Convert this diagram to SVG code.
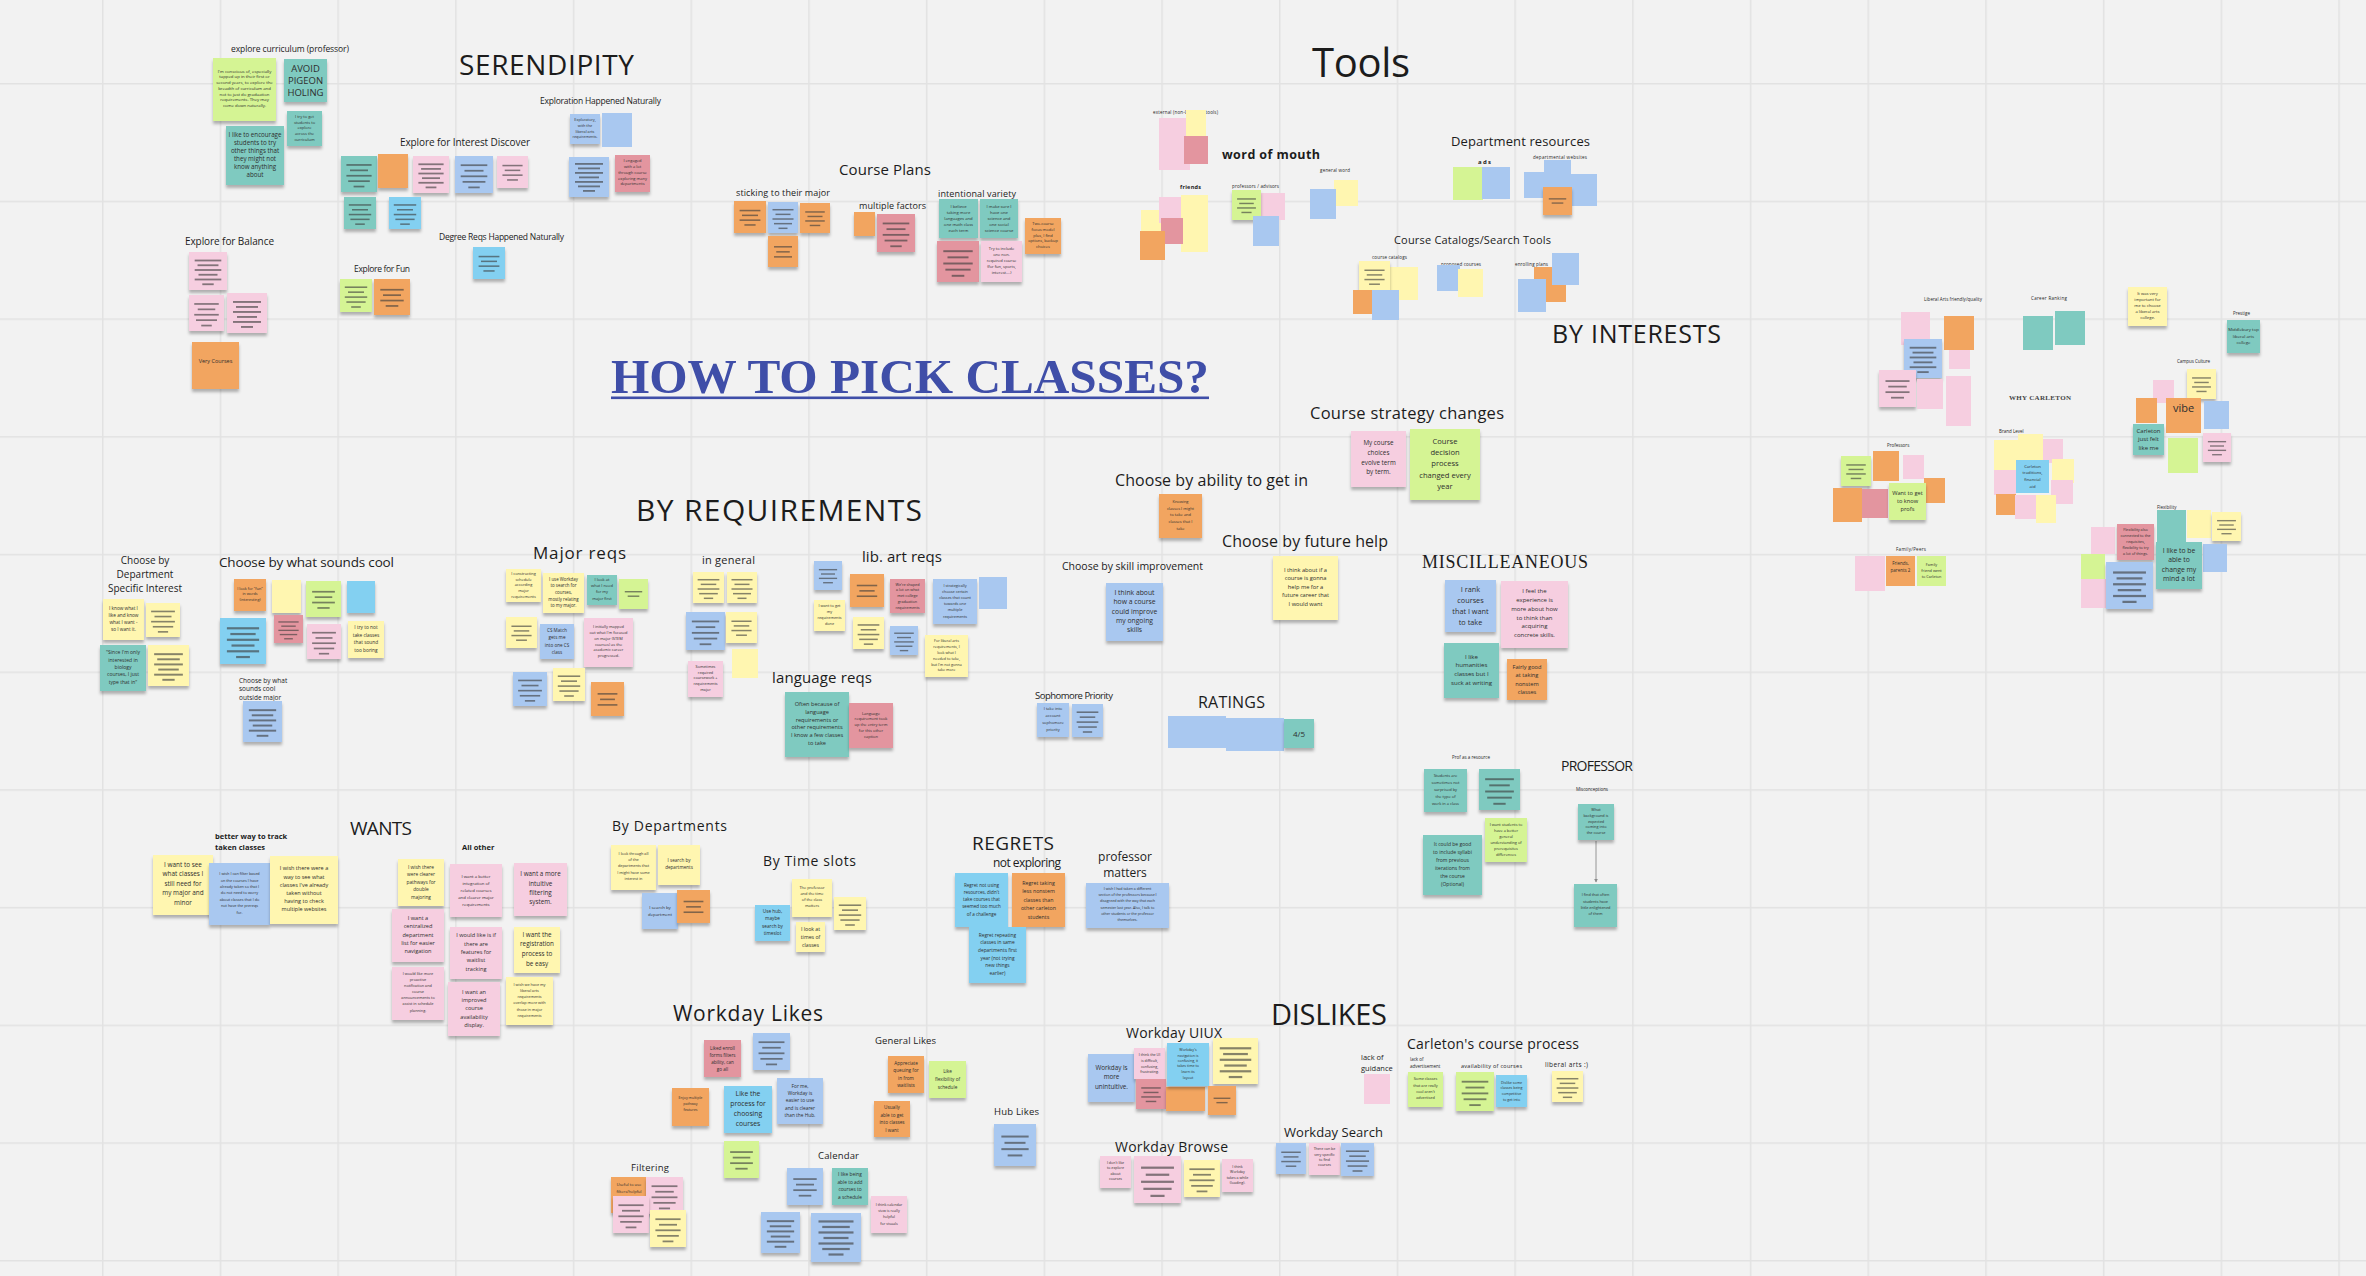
<svg xmlns="http://www.w3.org/2000/svg" xmlns:xlink="http://www.w3.org/1999/xlink" width="2366" height="1276" viewBox="0 0 2366 1276">
<style>
text{font-family:"Open Sans","Liberation Sans",sans-serif;fill:#1c1c1c}
.m{text-anchor:middle;fill:#2e2e2e}
.sf{font-family:"Liberation Serif","DejaVu Serif",serif}
.bd{font-weight:bold}
.n>rect{filter:url(#sh)}
.y{fill:#fff6b0}.l{fill:#d5f494}.t{fill:#7fcac0}.o{fill:#f2a560}.p{fill:#f6cee0}.r{fill:#e3959f}.b{fill:#a9c8f0}.c{fill:#83d0f1}
</style>
<defs>
<pattern id="grid" x="102" y="83" width="117.7" height="117.7" patternUnits="userSpaceOnUse">
<path d="M0 0H117.7M0 0V117.7" fill="none" stroke="#e2e2e2" stroke-width="3"/>
</pattern>
<filter id="sh" x="-15%" y="-15%" width="130%" height="140%">
<feDropShadow dx="0" dy="3" stdDeviation="1.6" flood-color="#000" flood-opacity="0.28"/>
</filter>
<marker id="ah" viewBox="0 0 6 6" refX="5" refY="3" markerWidth="4" markerHeight="4" orient="auto">
<path d="M0 0L6 3L0 6z" fill="#8a8a8a"/>
</marker>
<symbol id="b2" viewBox="0 0 40 40" preserveAspectRatio="none"><g fill="#3c3c3c" fill-opacity=".62"><rect x="8" y="16" width="24" height="1.9"/><rect x="12" y="22" width="16" height="1.9"/></g></symbol>
<symbol id="b3" viewBox="0 0 40 40" preserveAspectRatio="none"><g fill="#3c3c3c" fill-opacity=".62"><rect x="8" y="13" width="24" height="1.9"/><rect x="11" y="19.5" width="18" height="1.9"/><rect x="8" y="26" width="24" height="1.9"/></g></symbol>
<symbol id="b4" viewBox="0 0 40 40" preserveAspectRatio="none"><g fill="#3c3c3c" fill-opacity=".62"><rect x="7" y="11" width="26" height="1.9"/><rect x="10" y="17" width="20" height="1.9"/><rect x="7" y="23" width="26" height="1.9"/><rect x="13" y="29" width="14" height="1.9"/></g></symbol>
<symbol id="b5" viewBox="0 0 40 40" preserveAspectRatio="none"><g fill="#3c3c3c" fill-opacity=".62"><rect x="6" y="9" width="28" height="1.9"/><rect x="10" y="15" width="20" height="1.9"/><rect x="6" y="21" width="28" height="1.9"/><rect x="8" y="27" width="24" height="1.9"/><rect x="14" y="33" width="12" height="1.9"/></g></symbol>
<symbol id="b6" viewBox="0 0 40 40" preserveAspectRatio="none"><g fill="#3c3c3c" fill-opacity=".62"><rect x="6" y="8" width="28" height="1.9"/><rect x="9" y="13" width="22" height="1.9"/><rect x="6" y="18" width="28" height="1.9"/><rect x="10" y="23" width="20" height="1.9"/><rect x="6" y="28" width="28" height="1.9"/><rect x="14" y="33" width="12" height="1.9"/></g></symbol>
<symbol id="b7" viewBox="0 0 40 40" preserveAspectRatio="none"><g fill="#3c3c3c" fill-opacity=".62"><rect x="6" y="6" width="28" height="1.8"/><rect x="9" y="10.5" width="22" height="1.8"/><rect x="6" y="15" width="28" height="1.8"/><rect x="10" y="19.5" width="20" height="1.8"/><rect x="6" y="24" width="28" height="1.8"/><rect x="9" y="28.5" width="22" height="1.8"/><rect x="14" y="33" width="12" height="1.8"/></g></symbol>
</defs>

<!-- board background and grid -->
<rect width="2366" height="1276" fill="#f2f2f2"/>
<rect width="2366" height="1276" fill="url(#grid)"/>

<!-- ===== headings ===== -->
<g id="headings">
<text x="611" y="393" class="sf bd" font-size="48" textLength="598" lengthAdjust="spacingAndGlyphs" style="fill:#3f4ea8">HOW TO PICK CLASSES?</text>
<rect x="611" y="396.5" width="598" height="2.6" fill="#3f4ea8"/>
<text x="459" y="75" font-size="28" textLength="175">SERENDIPITY</text>
<text x="1312" y="77" font-size="40" textLength="98">Tools</text>
<text x="1552" y="343" font-size="25" textLength="169">BY INTERESTS</text>
<text x="636" y="521" font-size="30" textLength="286">BY REQUIREMENTS</text>
<text x="1271" y="1025" font-size="29" textLength="116">DISLIKES</text>
<text x="350" y="835" font-size="19" textLength="62">WANTS</text>
<text x="972" y="850" font-size="19" textLength="82">REGRETS</text>
<text x="1198" y="708" font-size="16" textLength="67">RATINGS</text>
<text x="1561" y="771" font-size="14" textLength="72">PROFESSOR</text>
<text x="1422" y="568" class="sf" font-size="18" textLength="166">MISCILLEANEOUS</text>
<text x="2009" y="399.5" class="sf bd" font-size="7" textLength="62" style="fill:#444">WHY CARLETON</text>
</g>

<!-- ===== section labels ===== -->
<g id="labels">
<text x="231" y="52" font-size="8.5" textLength="118">explore curriculum (professor)</text>
<text x="540" y="104" font-size="8.5" textLength="121">Exploration Happened Naturally</text>
<text x="400" y="146" font-size="10" textLength="130">Explore for Interest Discover</text>
<text x="439" y="240" font-size="8.5" textLength="125">Degree Reqs Happened Naturally</text>
<text x="185" y="245" font-size="10" textLength="89">Explore for Balance</text>
<text x="354" y="272" font-size="8.5" textLength="56">Explore for Fun</text>
<text x="839" y="174.5" font-size="15" textLength="92">Course Plans</text>
<text x="736" y="196" font-size="9" textLength="94">sticking to their major</text>
<text x="859" y="209" font-size="9" textLength="67">multiple factors</text>
<text x="938" y="197" font-size="9" textLength="78">intentional variety</text>
<text x="1153" y="113.5" font-size="4.5" textLength="65">external (non-Carleton tools)</text>
<text x="1222" y="159" class="bd" font-size="12.5" textLength="98">word of mouth</text>
<text x="1180" y="188.5" class="bd" font-size="5.5" textLength="21">friends</text>
<text x="1232" y="187.5" font-size="4.5" textLength="47">professors / advisors</text>
<text x="1320" y="171.5" font-size="4.5" textLength="30">general word</text>
<text x="1451" y="146" font-size="13" textLength="139">Department resources</text>
<text x="1478" y="164" class="bd" font-size="6" textLength="13">ads</text>
<text x="1533" y="158.5" font-size="4.5" textLength="54">departmental websites</text>
<text x="1394" y="243.5" font-size="11" textLength="157">Course Catalogs/Search Tools</text>
<text x="1372" y="258.5" font-size="4.5" textLength="35">course catalogs</text>
<text x="1441" y="265.5" font-size="4.5" textLength="40">proposed courses</text>
<text x="1515" y="265.5" font-size="4.5" textLength="33">enrolling plans</text>
<text x="1310" y="419" font-size="16.5" textLength="194">Course strategy changes</text>
<text x="1115" y="486" font-size="16" textLength="193">Choose by ability to get in</text>
<text x="1222" y="547" font-size="16" textLength="166">Choose by future help</text>
<text x="1062" y="569.5" font-size="10.5" textLength="141">Choose by skill improvement</text>
<text x="533" y="559" font-size="17" textLength="93">Major reqs</text>
<text x="702" y="563.5" font-size="11" textLength="53">in general</text>
<text x="862" y="561.5" font-size="15" textLength="80">lib. art reqs</text>
<text x="772" y="682.5" font-size="15" textLength="100">language reqs</text>
<text x="1035" y="699" font-size="9.5" textLength="78">Sophomore Priority</text>
<text class="m" font-size="10" style="fill:#1c1c1c"><tspan x="145" y="563.5">Choose by</tspan><tspan x="145" y="577.5">Department</tspan><tspan x="145" y="591.5">Specific Interest</tspan></text>
<text x="219" y="567" font-size="13.5" textLength="175">Choose by what sounds cool</text>
<text font-size="6.5"><tspan x="239" y="682.5">Choose by what</tspan><tspan x="239" y="691">sounds cool</tspan><tspan x="239" y="699.5">outside major</tspan></text>
<text x="1452" y="758.5" font-size="4.5" textLength="38">Prof as a resource</text>
<text x="1576" y="790.5" font-size="4.5" textLength="32">Misconceptions</text>
<text class="bd" font-size="7.5"><tspan x="215" y="838.5">better way to track</tspan><tspan x="215" y="849.5">taken classes</tspan></text>
<text x="462" y="849.5" class="bd" font-size="7.5">All other</text>
<text x="612" y="831" font-size="14" textLength="115">By Departments</text>
<text x="763" y="866" font-size="14" textLength="93">By Time slots</text>
<text x="993" y="867" font-size="12" textLength="68">not exploring</text>
<text class="m" font-size="12" style="fill:#1c1c1c"><tspan x="1125" y="861">professor</tspan><tspan x="1125" y="877">matters</tspan></text>
<text x="673" y="1021" font-size="21" textLength="150">Workday Likes</text>
<text x="875" y="1044" font-size="9.5" textLength="61">General Likes</text>
<text x="994" y="1115" font-size="9.5" textLength="45">Hub Likes</text>
<text x="631" y="1171" font-size="9.5" textLength="38">Filtering</text>
<text x="818" y="1159" font-size="9.5" textLength="41">Calendar</text>
<text x="1126" y="1038" font-size="14" textLength="96">Workday UIUX</text>
<text x="1115" y="1152" font-size="14" textLength="113">Workday Browse</text>
<text x="1284" y="1137" font-size="13" textLength="99">Workday Search</text>
<text x="1407" y="1049" font-size="14" textLength="172">Carleton's course process</text>
<text font-size="7.5"><tspan x="1361" y="1059.5">lack of</tspan><tspan x="1361" y="1070.5">guidance</tspan></text>
<text font-size="4.5"><tspan x="1410" y="1060.5">lack of</tspan><tspan x="1410" y="1067.5">advertisement</tspan></text>
<text x="1461" y="1068" font-size="5.5" textLength="61">availability of courses</text>
<text x="1545" y="1067" font-size="6.5" textLength="43">liberal arts :)</text>
<text x="1924" y="300.5" font-size="4.5" textLength="58">Liberal Arts friendly/quality</text>
<text x="2031" y="299.5" font-size="4.5" textLength="36">Career Ranking</text>
<text x="2233" y="314.5" font-size="4.5">Prestige</text>
<text x="2177" y="362.5" font-size="4.5" textLength="33">Campus Culture</text>
<text x="1887" y="446.5" font-size="4.5">Professors</text>
<text x="1999" y="432.5" font-size="4.5">Brand Level</text>
<text x="2157" y="508.5" font-size="4.5">Flexibility</text>
<text x="1896" y="550.5" font-size="4.5" textLength="30">Family/Peers</text>
</g>

<!-- ===== connectors ===== -->
<g id="connectors">
<path d="M1596 841V882" fill="none" stroke="#8a8a8a" stroke-width="0.9" marker-end="url(#ah)"/>
</g>

<!-- ===== SERENDIPITY ===== -->
<g id="serendipity">
<g id="n1" class="n"><rect class="l" x="213" y="58" width="63" height="63"/><text class="m" font-size="4.3"><tspan x="244.5" y="72.5">I'm conscious of, especially</tspan><tspan x="244.5" y="78.2">tapped up in their first or</tspan><tspan x="244.5" y="84.2">second years, to explore the</tspan><tspan x="244.5" y="89.8">breadth of curriculum and</tspan><tspan x="244.5" y="95.5">not to just do graduation</tspan><tspan x="244.5" y="101.2">requirements. They may</tspan><tspan x="244.5" y="107.2">come down naturally.</tspan></text></g>
<g id="n2" class="n"><rect class="t" x="284" y="59" width="43" height="43"/><text class="m" font-size="9.5"><tspan x="305.5" y="71.5">AVOID</tspan><tspan x="305.5" y="83.5">PIGEON</tspan><tspan x="305.5" y="95.5">HOLING</tspan></text></g>
<g id="n3" class="n"><rect class="t" x="287" y="111" width="35" height="35"/><text class="m" font-size="4"><tspan x="304.5" y="118.1">I try to get</tspan><tspan x="304.5" y="123.7">students to</tspan><tspan x="304.5" y="129.4">explore</tspan><tspan x="304.5" y="134.7">across the</tspan><tspan x="304.5" y="140.7">curriculum</tspan></text></g>
<g id="n4" class="n"><rect class="t" x="226" y="126" width="58" height="59"/><text class="m" font-size="6.2"><tspan x="255" y="137.2">I like to encourage</tspan><tspan x="255" y="145.2">students to try</tspan><tspan x="255" y="152.9">other things that</tspan><tspan x="255" y="160.9">they might not</tspan><tspan x="255" y="168.9">know anything</tspan><tspan x="255" y="176.5">about</tspan></text></g>
<g id="n5" class="n"><rect class="t" x="341" y="156" width="36" height="36"/><use href="#b5" x="341" y="156" width="36" height="36"/></g>
<g id="n6" class="n"><rect class="o" x="378" y="154" width="30" height="34"/></g>
<g id="n7" class="n"><rect class="p" x="413" y="156" width="36" height="37"/><use href="#b6" x="413" y="156" width="36" height="37"/></g>
<g id="n8" class="n"><rect class="b" x="455" y="156" width="38" height="37"/><use href="#b5" x="455" y="156" width="38" height="37"/></g>
<g id="n9" class="n"><rect class="p" x="497" y="156" width="31" height="32"/><use href="#b4" x="497" y="156" width="31" height="32"/></g>
<g id="n10" class="n"><rect class="t" x="344" y="197" width="32" height="32"/><use href="#b5" x="344" y="197" width="32" height="32"/></g>
<g id="n11" class="n"><rect class="c" x="389" y="197" width="32" height="32"/><use href="#b5" x="389" y="197" width="32" height="32"/></g>
<g id="n12" class="n"><rect class="c" x="473" y="247" width="32" height="32"/><use href="#b4" x="473" y="247" width="32" height="32"/></g>
<g id="n13" class="n"><rect class="p" x="189" y="252" width="38" height="38"/><use href="#b6" x="189" y="252" width="38" height="38"/></g>
<g id="n14" class="n"><rect class="p" x="189" y="295" width="35" height="36"/><use href="#b5" x="189" y="295" width="35" height="36"/></g>
<g id="n15" class="n"><rect class="p" x="227" y="293" width="40" height="40"/><use href="#b6" x="227" y="293" width="40" height="40"/></g>
<g id="n16" class="n"><rect class="o" x="192" y="342" width="47" height="47"/><text class="m" font-size="5.5" x="215.5" y="363">Very Courses</text></g>
<g id="n17" class="n"><rect class="l" x="340" y="279" width="32" height="33"/><use href="#b5" x="340" y="279" width="32" height="33"/></g>
<g id="n18" class="n"><rect class="o" x="374" y="279" width="36" height="36"/><use href="#b4" x="374" y="279" width="36" height="36"/></g>
<g id="n19" class="n"><rect class="b" x="570" y="114" width="30" height="30"/><text class="m" font-size="3.8"><tspan x="585" y="121.3">Exploratory,</tspan><tspan x="585" y="127.3">with the</tspan><tspan x="585" y="133">liberal arts</tspan><tspan x="585" y="138.3">requirements.</tspan></text></g>
<g id="n20" class="f"><rect class="b" x="602" y="113" width="30" height="34"/></g>
<g id="n21" class="n"><rect class="b" x="569" y="157" width="40" height="40"/><use href="#b7" x="569" y="157" width="40" height="40"/></g>
<g id="n22" class="n"><rect class="r" x="615" y="155" width="35" height="37"/><text class="m" font-size="4"><tspan x="632.5" y="162.4">I engaged</tspan><tspan x="632.5" y="168.1">with a lot</tspan><tspan x="632.5" y="174.1">through course</tspan><tspan x="632.5" y="179.7">exploring many</tspan><tspan x="632.5" y="185.4">departments</tspan></text></g>
</g>

<!-- ===== Course Plans ===== -->
<g id="course-plans">
<g id="n23" class="n"><rect class="o" x="734" y="201" width="32" height="32"/><use href="#b4" x="734" y="201" width="32" height="32"/></g>
<g id="n24" class="n"><rect class="b" x="768" y="202" width="30" height="31"/><use href="#b5" x="768" y="202" width="30" height="31"/></g>
<g id="n25" class="n"><rect class="o" x="800" y="203" width="30" height="30"/><use href="#b4" x="800" y="203" width="30" height="30"/></g>
<g id="n26" class="n"><rect class="o" x="768" y="236" width="30" height="31"/><use href="#b3" x="768" y="236" width="30" height="31"/></g>
<g id="n27" class="n"><rect class="o" x="854" y="212" width="21" height="24"/></g>
<g id="n28" class="n"><rect class="r" x="877" y="214" width="38" height="38"/><use href="#b5" x="877" y="214" width="38" height="38"/></g>
<g id="n29" class="n"><rect class="t" x="939" y="199" width="39" height="39"/><text class="m" font-size="4.2"><tspan x="958.5" y="207.5">I believe</tspan><tspan x="958.5" y="213.5">taking more</tspan><tspan x="958.5" y="219.5">languages and</tspan><tspan x="958.5" y="225.5">one math class</tspan><tspan x="958.5" y="231.5">each term</tspan></text></g>
<g id="n30" class="n"><rect class="t" x="980" y="199" width="38" height="39"/><text class="m" font-size="4.2"><tspan x="999" y="207.5">I make sure I</tspan><tspan x="999" y="213.5">have one</tspan><tspan x="999" y="219.5">science and</tspan><tspan x="999" y="225.5">one social</tspan><tspan x="999" y="231.5">science course</tspan></text></g>
<g id="n31" class="n"><rect class="r" x="937" y="241" width="42" height="41"/><use href="#b5" x="937" y="241" width="42" height="41"/></g>
<g id="n32" class="n"><rect class="p" x="981" y="241" width="41" height="41"/><text class="m" font-size="4"><tspan x="1001.5" y="249.7">Try to include</tspan><tspan x="1001.5" y="256.4">one non-</tspan><tspan x="1001.5" y="262.4">required course</tspan><tspan x="1001.5" y="268.1">(for fun, sports,</tspan><tspan x="1001.5" y="274.1">interest....)</tspan></text></g>
<g id="n33" class="n"><rect class="o" x="1025" y="218" width="36" height="36"/><text class="m" font-size="4"><tspan x="1043" y="225.4">Two-course</tspan><tspan x="1043" y="231.1">focus model</tspan><tspan x="1043" y="236.7">plus, I find</tspan><tspan x="1043" y="242.4">options, backup</tspan><tspan x="1043" y="248.4">choices</tspan></text></g>
</g>

<!-- ===== Tools ===== -->
<g id="tools">
<g id="n34" class="f"><rect class="p" x="1159" y="118" width="31" height="52"/></g>
<g id="n35" class="f"><rect class="y" x="1186" y="110" width="20" height="26"/></g>
<g id="n36" class="f"><rect class="r" x="1184" y="136" width="24" height="28"/></g>
<g id="n40" class="f"><rect class="y" x="1141" y="210" width="21" height="24"/></g>
<g id="n38" class="f"><rect class="y" x="1181" y="195" width="27" height="57"/></g>
<g id="n37" class="f"><rect class="p" x="1159" y="197" width="22" height="26"/></g>
<g id="n39" class="f"><rect class="r" x="1161" y="218" width="22" height="26"/></g>
<g id="n41" class="f"><rect class="o" x="1140" y="231" width="25" height="29"/></g>
<g id="n43" class="f"><rect class="p" x="1261" y="193" width="24" height="27"/></g>
<g id="n42" class="n"><rect class="l" x="1232" y="190" width="29" height="30"/><use href="#b4" x="1232" y="190" width="29" height="30"/></g>
<g id="n44" class="f"><rect class="b" x="1253" y="216" width="26" height="30"/></g>
<g id="n46" class="f"><rect class="y" x="1334" y="180" width="24" height="26"/></g>
<g id="n45" class="f"><rect class="b" x="1310" y="189" width="26" height="30"/></g>
<g id="n47" class="f"><rect class="l" x="1453" y="167" width="30" height="33"/></g>
<g id="n48" class="f"><rect class="b" x="1482" y="167" width="28" height="32"/></g>
<g id="n49" class="f"><rect class="b" x="1524" y="172" width="21" height="26"/></g>
<g id="n50" class="f"><rect class="b" x="1544" y="160" width="27" height="27"/></g>
<g id="n51" class="f"><rect class="b" x="1569" y="174" width="28" height="32"/></g>
<g id="n52" class="n"><rect class="o" x="1543" y="187" width="29" height="28"/><use href="#b2" x="1543" y="187" width="29" height="28"/></g>
<g id="n54" class="f"><rect class="y" x="1390" y="267" width="28" height="33"/></g>
<g id="n53" class="n"><rect class="y" x="1359" y="261" width="31" height="31"/><use href="#b4" x="1359" y="261" width="31" height="31"/></g>
<g id="n55" class="f"><rect class="o" x="1353" y="290" width="23" height="24"/></g>
<g id="n56" class="f"><rect class="b" x="1372" y="290" width="27" height="30"/></g>
<g id="n57" class="f"><rect class="b" x="1437" y="265" width="23" height="26"/></g>
<g id="n58" class="f"><rect class="y" x="1458" y="269" width="25" height="28"/></g>
<g id="n59" class="f"><rect class="o" x="1534" y="267" width="32" height="35"/></g>
<g id="n60" class="f"><rect class="b" x="1552" y="253" width="27" height="32"/></g>
<g id="n61" class="f"><rect class="b" x="1518" y="279" width="28" height="33"/></g>
</g>

<!-- ===== BY INTERESTS / why Carleton ===== -->
<g id="by-interests">
<g id="n62" class="f"><rect class="p" x="1901" y="312" width="29" height="33"/></g>
<g id="n63" class="f"><rect class="o" x="1944" y="316" width="30" height="34"/></g>
<g id="n64" class="n"><rect class="b" x="1904" y="339" width="38" height="39"/><use href="#b6" x="1904" y="339" width="38" height="39"/></g>
<g id="n65" class="f"><rect class="p" x="1949" y="350" width="21" height="19"/></g>
<g id="n66" class="n"><rect class="p" x="1879" y="370" width="37" height="37"/><use href="#b4" x="1879" y="370" width="37" height="37"/></g>
<g id="n67" class="f"><rect class="p" x="1917" y="379" width="26" height="30"/></g>
<g id="n68" class="f"><rect class="p" x="1946" y="376" width="25" height="50"/></g>
<g id="n69" class="f"><rect class="t" x="2023" y="316" width="30" height="34"/></g>
<g id="n70" class="f"><rect class="t" x="2055" y="311" width="30" height="34"/></g>
<g id="n71" class="n"><rect class="y" x="2128" y="287" width="39" height="39"/><text class="m" font-size="4.2"><tspan x="2147.5" y="294.8">It was very</tspan><tspan x="2147.5" y="300.7">important for</tspan><tspan x="2147.5" y="306.5">me to choose</tspan><tspan x="2147.5" y="312.8">a liberal arts</tspan><tspan x="2147.5" y="319.1">college.</tspan></text></g>
<g id="n72" class="n"><rect class="t" x="2227" y="320" width="33" height="33"/><text class="m" font-size="4.3"><tspan x="2243.5" y="330.5">Middlebury top</tspan><tspan x="2243.5" y="337.5">liberal arts</tspan><tspan x="2243.5" y="344.2">college</tspan></text></g>
<g id="n73" class="n"><rect class="y" x="2187" y="369" width="29" height="30"/><use href="#b4" x="2187" y="369" width="29" height="30"/></g>
<g id="n74" class="f"><rect class="p" x="2153" y="380" width="21" height="23"/></g>
<g id="n75" class="f"><rect class="o" x="2136" y="398" width="21" height="25"/></g>
<g id="n76" class="f"><rect class="o" x="2166" y="398" width="35" height="35"/><text class="m" font-size="11" x="2183.5" y="412">vibe</text></g>
<g id="n77" class="f"><rect class="b" x="2204" y="401" width="25" height="28"/></g>
<g id="n78" class="n"><rect class="t" x="2133" y="424" width="31" height="31"/><text class="m" font-size="6"><tspan x="2148.5" y="433.1">Carleton</tspan><tspan x="2148.5" y="441.1">just felt</tspan><tspan x="2148.5" y="450.1">like me</tspan></text></g>
<g id="n79" class="f"><rect class="l" x="2168" y="438" width="30" height="35"/></g>
<g id="n80" class="n"><rect class="p" x="2203" y="433" width="28" height="29"/><use href="#b4" x="2203" y="433" width="28" height="29"/></g>
<g id="n81" class="n"><rect class="l" x="1841" y="456" width="30" height="30"/><use href="#b4" x="1841" y="456" width="30" height="30"/></g>
<g id="n82" class="f"><rect class="o" x="1873" y="451" width="26" height="30"/></g>
<g id="n83" class="f"><rect class="p" x="1903" y="455" width="21" height="24"/></g>
<g id="n84" class="f"><rect class="o" x="1924" y="478" width="21" height="25"/></g>
<g id="n85" class="f"><rect class="o" x="1833" y="488" width="29" height="34"/></g>
<g id="n86" class="f"><rect class="r" x="1862" y="489" width="26" height="29"/></g>
<g id="n87" class="n"><rect class="l" x="1889" y="483" width="37" height="37"/><text class="m" font-size="5.7"><tspan x="1907.5" y="495">Want to get</tspan><tspan x="1907.5" y="503">to know</tspan><tspan x="1907.5" y="511">profs</tspan></text></g>
<g id="n88" class="f"><rect class="p" x="1855" y="556" width="30" height="35"/></g>
<g id="n89" class="f"><rect class="o" x="1886" y="556" width="29" height="30"/><text class="m" font-size="4.5"><tspan x="1900.5" y="564.9">Friends,</tspan><tspan x="1900.5" y="572.3">parents 2</tspan></text></g>
<g id="n90" class="f"><rect class="l" x="1917" y="556" width="29" height="30"/><text class="m" font-size="3.8"><tspan x="1931.5" y="565.6">Family</tspan><tspan x="1931.5" y="571.6">friend went</tspan><tspan x="1931.5" y="578">to Carleton</tspan></text></g>
<g id="n91" class="f"><rect class="y" x="2018" y="434" width="25" height="28"/></g>
<g id="n92" class="f"><rect class="p" x="2043" y="439" width="20" height="24"/></g>
<g id="n93" class="f"><rect class="y" x="1994" y="440" width="27" height="32"/></g>
<g id="n94" class="f"><rect class="y" x="2052" y="459" width="22" height="24"/></g>
<g id="n95" class="f"><rect class="p" x="1994" y="470" width="22" height="25"/></g>
<g id="n96" class="f"><rect class="p" x="2051" y="480" width="22" height="24"/></g>
<g id="n97" class="f"><rect class="o" x="1996" y="494" width="20" height="21"/></g>
<g id="n98" class="f"><rect class="p" x="2015" y="495" width="21" height="24"/></g>
<g id="n99" class="f"><rect class="y" x="2036" y="495" width="20" height="28"/></g>
<g id="n100" class="f"><rect class="c" x="2016" y="460" width="33" height="33"/><text class="m" font-size="4.2"><tspan x="2032.5" y="467.5">Carleton</tspan><tspan x="2032.5" y="474.2">traditions,</tspan><tspan x="2032.5" y="481.2">financial</tspan><tspan x="2032.5" y="487.8">aid</tspan></text></g>
<g id="n101" class="f"><rect class="p" x="2091" y="527" width="24" height="27"/></g>
<g id="n102" class="f"><rect class="t" x="2157" y="510" width="29" height="33"/></g>
<g id="n103" class="f"><rect class="y" x="2187" y="510" width="24" height="28"/></g>
<g id="n104" class="n"><rect class="y" x="2212" y="512" width="29" height="29"/><use href="#b4" x="2212" y="512" width="29" height="29"/></g>
<g id="n105" class="n"><rect class="r" x="2117" y="524" width="37" height="36"/><text class="m" font-size="3.8"><tspan x="2135.5" y="531.3">Flexibility also</tspan><tspan x="2135.5" y="537.3">connected to the</tspan><tspan x="2135.5" y="543.3">requisites,</tspan><tspan x="2135.5" y="549">flexibility to try</tspan><tspan x="2135.5" y="555">a lot of things.</tspan></text></g>
<g id="n107" class="f"><rect class="b" x="2203" y="544" width="24" height="28"/></g>
<g id="n106" class="n"><rect class="t" x="2156" y="542" width="46" height="47"/><text class="m" font-size="6.8"><tspan x="2179" y="553.4">I like to be</tspan><tspan x="2179" y="562.4">able to</tspan><tspan x="2179" y="572.4">change my</tspan><tspan x="2179" y="581.4">mind a lot</tspan></text></g>
<g id="n108" class="f"><rect class="l" x="2081" y="554" width="24" height="25"/></g>
<g id="n109" class="f"><rect class="p" x="2081" y="579" width="25" height="29"/></g>
<g id="n110" class="n"><rect class="b" x="2106" y="562" width="47" height="47"/><use href="#b6" x="2106" y="562" width="47" height="47"/></g>
</g>

<!-- ===== BY REQUIREMENTS and choose-by groups ===== -->
<g id="by-requirements">
<g id="n111" class="n"><rect class="y" x="103" y="599" width="41" height="41"/><text class="m" font-size="4.7"><tspan x="123.5" y="609.6">I know what I</tspan><tspan x="123.5" y="616.6">like and know</tspan><tspan x="123.5" y="623.6">what I want -</tspan><tspan x="123.5" y="630.6">so I want it.</tspan></text></g>
<g id="n112" class="n"><rect class="y" x="146" y="603" width="34" height="34"/><use href="#b5" x="146" y="603" width="34" height="34"/></g>
<g id="n113" class="n"><rect class="t" x="100" y="645" width="46" height="46"/><text class="m" font-size="5"><tspan x="123" y="654">"Since I'm only</tspan><tspan x="123" y="661.5">interested in</tspan><tspan x="123" y="668.8">biology</tspan><tspan x="123" y="676">courses, I just</tspan><tspan x="123" y="683.5">type that in"</tspan></text></g>
<g id="n114" class="n"><rect class="y" x="148" y="645" width="41" height="41"/><use href="#b6" x="148" y="645" width="41" height="41"/></g>
<g id="n115" class="n"><rect class="o" x="234" y="579" width="32" height="32"/><text class="m" font-size="3.8"><tspan x="250" y="589.6">I look for "fun"</tspan><tspan x="250" y="595.3">in words</tspan><tspan x="250" y="601">(interesting)</tspan></text></g>
<g id="n116" class="n"><rect class="y" x="272" y="580" width="29" height="33"/></g>
<g id="n117" class="n"><rect class="l" x="306" y="581" width="35" height="36"/><use href="#b4" x="306" y="581" width="35" height="36"/></g>
<g id="n118" class="n"><rect class="c" x="347" y="581" width="28" height="32"/></g>
<g id="n119" class="n"><rect class="c" x="220" y="618" width="46" height="46"/><use href="#b6" x="220" y="618" width="46" height="46"/></g>
<g id="n120" class="n"><rect class="r" x="274" y="615" width="29" height="28"/><use href="#b5" x="274" y="615" width="29" height="28"/></g>
<g id="n121" class="n"><rect class="p" x="307" y="624" width="34" height="35"/><use href="#b5" x="307" y="624" width="34" height="35"/></g>
<g id="n122" class="n"><rect class="y" x="348" y="621" width="36" height="37"/><text class="m" font-size="4.8"><tspan x="366" y="628.7">I try to not</tspan><tspan x="366" y="636.7">take classes</tspan><tspan x="366" y="643.7">that sound</tspan><tspan x="366" y="651.7">too boring</tspan></text></g>
<g id="n123" class="n"><rect class="b" x="243" y="701" width="39" height="41"/><use href="#b6" x="243" y="701" width="39" height="41"/></g>
<g id="n124" class="n"><rect class="y" x="506" y="569" width="35" height="33"/><text class="m" font-size="3.9"><tspan x="523.5" y="574.7">I constructing</tspan><tspan x="523.5" y="580.7">schedule</tspan><tspan x="523.5" y="586.4">according</tspan><tspan x="523.5" y="592.1">major</tspan><tspan x="523.5" y="597.7">requirements</tspan></text></g>
<g id="n125" class="n"><rect class="y" x="543" y="573" width="41" height="40"/><text class="m" font-size="4.4"><tspan x="563.5" y="580.8">I use Workday</tspan><tspan x="563.5" y="587.2">to search for</tspan><tspan x="563.5" y="593.8">courses,</tspan><tspan x="563.5" y="600.5">mostly relating</tspan><tspan x="563.5" y="606.8">to my major.</tspan></text></g>
<g id="n126" class="n"><rect class="t" x="587" y="575" width="30" height="30"/><text class="m" font-size="4"><tspan x="602" y="581.4">I look at</tspan><tspan x="602" y="587.1">what I need</tspan><tspan x="602" y="593.4">for my</tspan><tspan x="602" y="599.7">major first</tspan></text></g>
<g id="n127" class="n"><rect class="l" x="619" y="579" width="29" height="30"/><use href="#b2" x="619" y="579" width="29" height="30"/></g>
<g id="n128" class="n"><rect class="y" x="506" y="617" width="31" height="31"/><use href="#b4" x="506" y="617" width="31" height="31"/></g>
<g id="n129" class="n"><rect class="b" x="540" y="624" width="34" height="35"/><text class="m" font-size="4.6"><tspan x="557" y="631.9">CS Match</tspan><tspan x="557" y="639.3">gets me</tspan><tspan x="557" y="646.6">into one CS</tspan><tspan x="557" y="653.9">class</tspan></text></g>
<g id="n130" class="n"><rect class="p" x="584" y="618" width="49" height="49"/><text class="m" font-size="3.9"><tspan x="608.5" y="628.1">I initially mapped</tspan><tspan x="608.5" y="634.1">out what I'm focused</tspan><tspan x="608.5" y="639.7">on major (STEM</tspan><tspan x="608.5" y="645.7">courses) as the</tspan><tspan x="608.5" y="651.4">academic career</tspan><tspan x="608.5" y="657.4">progressed.</tspan></text></g>
<g id="n131" class="n"><rect class="b" x="513" y="672" width="34" height="34"/><use href="#b5" x="513" y="672" width="34" height="34"/></g>
<g id="n132" class="n"><rect class="y" x="553" y="668" width="32" height="33"/><use href="#b5" x="553" y="668" width="32" height="33"/></g>
<g id="n133" class="n"><rect class="o" x="591" y="682" width="33" height="34"/><use href="#b3" x="591" y="682" width="33" height="34"/></g>
<g id="n134" class="n"><rect class="y" x="693" y="572" width="31" height="31"/><use href="#b5" x="693" y="572" width="31" height="31"/></g>
<g id="n135" class="n"><rect class="y" x="727" y="572" width="30" height="31"/><use href="#b5" x="727" y="572" width="30" height="31"/></g>
<g id="n136" class="n"><rect class="b" x="686" y="612" width="39" height="38"/><use href="#b5" x="686" y="612" width="39" height="38"/></g>
<g id="n137" class="n"><rect class="y" x="726" y="612" width="31" height="31"/><use href="#b4" x="726" y="612" width="31" height="31"/></g>
<g id="n138" class="f"><rect class="y" x="732" y="649" width="26" height="29"/></g>
<g id="n139" class="n"><rect class="p" x="688" y="661" width="35" height="36"/><text class="m" font-size="3.8"><tspan x="705.5" y="668">Sometimes</tspan><tspan x="705.5" y="673.6">required</tspan><tspan x="705.5" y="679.3">coursework +</tspan><tspan x="705.5" y="685">requirements</tspan><tspan x="705.5" y="690.6">major</tspan></text></g>
<g id="n140" class="n"><rect class="b" x="814" y="561" width="28" height="29"/><use href="#b4" x="814" y="561" width="28" height="29"/></g>
<g id="n141" class="n"><rect class="o" x="850" y="574" width="34" height="33"/><use href="#b3" x="850" y="574" width="34" height="33"/></g>
<g id="n142" class="n"><rect class="r" x="890" y="579" width="35" height="34"/><text class="m" font-size="3.8"><tspan x="907.5" y="585.6">We're shaped</tspan><tspan x="907.5" y="591.3">a lot on what</tspan><tspan x="907.5" y="597.3">met college</tspan><tspan x="907.5" y="603">graduation</tspan><tspan x="907.5" y="609">requirements</tspan></text></g>
<g id="n143" class="n"><rect class="b" x="933" y="579" width="44" height="45"/><text class="m" font-size="3.8"><tspan x="955" y="587">I strategically</tspan><tspan x="955" y="593.3">choose certain</tspan><tspan x="955" y="599.3">classes that count</tspan><tspan x="955" y="605.3">towards one</tspan><tspan x="955" y="611.3">multiple</tspan><tspan x="955" y="617.6">requirements</tspan></text></g>
<g id="n144" class="f"><rect class="b" x="979" y="577" width="28" height="32"/></g>
<g id="n145" class="n"><rect class="y" x="814" y="600" width="31" height="31"/><text class="m" font-size="3.8"><tspan x="829.5" y="607.3">I want to get</tspan><tspan x="829.5" y="613">my</tspan><tspan x="829.5" y="618.6">requirements</tspan><tspan x="829.5" y="624.6">done</tspan></text></g>
<g id="n146" class="n"><rect class="y" x="853" y="617" width="31" height="32"/><use href="#b5" x="853" y="617" width="31" height="32"/></g>
<g id="n147" class="n"><rect class="b" x="890" y="626" width="28" height="29"/><use href="#b5" x="890" y="626" width="28" height="29"/></g>
<g id="n148" class="n"><rect class="y" x="925" y="635" width="43" height="42"/><text class="m" font-size="3.7"><tspan x="946.5" y="642">For liberal arts</tspan><tspan x="946.5" y="648">requirements, I</tspan><tspan x="946.5" y="654">look what I</tspan><tspan x="946.5" y="660">needed to take,</tspan><tspan x="946.5" y="665.6">but I'm not gonna</tspan><tspan x="946.5" y="671">take more</tspan></text></g>
<g id="n149" class="n"><rect class="t" x="785" y="692" width="64" height="65"/><text class="m" font-size="5.6"><tspan x="817" y="706">Often because of</tspan><tspan x="817" y="714">language</tspan><tspan x="817" y="722">requirements or</tspan><tspan x="817" y="729">other requirements</tspan><tspan x="817" y="737">I know a few classes</tspan><tspan x="817" y="745">to take</tspan></text></g>
<g id="n150" class="n"><rect class="r" x="849" y="703" width="44" height="45"/><text class="m" font-size="4"><tspan x="871" y="714.7">Language</tspan><tspan x="871" y="720.4">requirement took</tspan><tspan x="871" y="726.4">up the entry term</tspan><tspan x="871" y="732.1">for this other</tspan><tspan x="871" y="738.1">caption</tspan></text></g>
<g id="n151" class="n"><rect class="b" x="1037" y="703" width="32" height="34"/><text class="m" font-size="4"><tspan x="1053" y="710.4">I take into</tspan><tspan x="1053" y="717.4">account</tspan><tspan x="1053" y="724.4">sophomore</tspan><tspan x="1053" y="731.4">priority</tspan></text></g>
<g id="n152" class="n"><rect class="b" x="1072" y="704" width="31" height="33"/><use href="#b5" x="1072" y="704" width="31" height="33"/></g>
<g id="n153" class="n"><rect class="b" x="1106" y="583" width="57" height="58"/><text class="m" font-size="6.8"><tspan x="1134.5" y="595.4">I think about</tspan><tspan x="1134.5" y="604.4">how a course</tspan><tspan x="1134.5" y="614.4">could improve</tspan><tspan x="1134.5" y="623.4">my ongoing</tspan><tspan x="1134.5" y="632.4">skills</tspan></text></g>
<g id="n154" class="n"><rect class="o" x="1159" y="494" width="43" height="44"/><text class="m" font-size="4"><tspan x="1180.5" y="503.1">Knowing</tspan><tspan x="1180.5" y="509.7">classes I might</tspan><tspan x="1180.5" y="516.4">to take and</tspan><tspan x="1180.5" y="523.1">classes that I</tspan><tspan x="1180.5" y="529.7">take</tspan></text></g>
<g id="n155" class="n"><rect class="p" x="1351" y="431" width="55" height="56"/><text class="m" font-size="6.3"><tspan x="1378.5" y="445.2">My course</tspan><tspan x="1378.5" y="455.2">choices</tspan><tspan x="1378.5" y="465.2">evolve term</tspan><tspan x="1378.5" y="474.2">by term.</tspan></text></g>
<g id="n156" class="n"><rect class="l" x="1410" y="429" width="70" height="71"/><text class="m" font-size="7.6"><tspan x="1445" y="443.7">Course</tspan><tspan x="1445" y="454.7">decision</tspan><tspan x="1445" y="465.7">process</tspan><tspan x="1445" y="477.7">changed every</tspan><tspan x="1445" y="488.7">year</tspan></text></g>
<g id="n157" class="n"><rect class="y" x="1273" y="556" width="65" height="64"/><text class="m" font-size="5.7"><tspan x="1305.5" y="572">I think about if a</tspan><tspan x="1305.5" y="580">course is gonna</tspan><tspan x="1305.5" y="589">help me for a</tspan><tspan x="1305.5" y="597">future career that</tspan><tspan x="1305.5" y="606">I would want</tspan></text></g>
</g>

<!-- ===== MISCILLEANEOUS / RATINGS / PROFESSOR ===== -->
<g id="misc">
<g id="n158" class="n"><rect class="b" x="1445" y="580" width="51" height="52"/><text class="m" font-size="7.3"><tspan x="1470.5" y="591.6">I rank</tspan><tspan x="1470.5" y="602.6">courses</tspan><tspan x="1470.5" y="613.6">that I want</tspan><tspan x="1470.5" y="624.6">to take</tspan></text></g>
<g id="n159" class="n"><rect class="p" x="1501" y="581" width="67" height="67"/><text class="m" font-size="6"><tspan x="1534.5" y="593.1">I feel the</tspan><tspan x="1534.5" y="602.1">experience is</tspan><tspan x="1534.5" y="611.1">more about how</tspan><tspan x="1534.5" y="620.1">to think than</tspan><tspan x="1534.5" y="628.1">acquiring</tspan><tspan x="1534.5" y="637.1">concrete skills.</tspan></text></g>
<g id="n160" class="n"><rect class="t" x="1444" y="643" width="55" height="55"/><text class="m" font-size="6.1"><tspan x="1471.5" y="659.1">I like</tspan><tspan x="1471.5" y="667.1">humanities</tspan><tspan x="1471.5" y="676.1">classes but I</tspan><tspan x="1471.5" y="685.1">suck at writing</tspan></text></g>
<g id="n161" class="n"><rect class="o" x="1507" y="659" width="40" height="41"/><text class="m" font-size="5.7"><tspan x="1527" y="669">Fairly good</tspan><tspan x="1527" y="677">at taking</tspan><tspan x="1527" y="686">nonstem</tspan><tspan x="1527" y="694">classes</tspan></text></g>
<g id="n162" class="f"><rect class="b" x="1168" y="716" width="58" height="32"/></g>
<g id="n163" class="f"><rect class="b" x="1226" y="718" width="58" height="33"/></g>
<g id="n164" class="n"><rect class="t" x="1284" y="719" width="30" height="29"/><text class="m" font-size="8" x="1299" y="736.8">4/5</text></g>
<g id="n165" class="n"><rect class="t" x="1424" y="769" width="43" height="43"/><text class="m" font-size="4"><tspan x="1445.5" y="777.4">Students are</tspan><tspan x="1445.5" y="784.4">sometimes not</tspan><tspan x="1445.5" y="791.4">surprised by</tspan><tspan x="1445.5" y="798.4">the type of</tspan><tspan x="1445.5" y="805.4">work in a class</tspan></text></g>
<g id="n166" class="n"><rect class="t" x="1479" y="769" width="41" height="41"/><use href="#b5" x="1479" y="769" width="41" height="41"/></g>
<g id="n167" class="n"><rect class="t" x="1578" y="804" width="36" height="36"/><text class="m" font-size="3.8"><tspan x="1596" y="811.3">What</tspan><tspan x="1596" y="817">background is</tspan><tspan x="1596" y="822.6">expected</tspan><tspan x="1596" y="828.3">coming into</tspan><tspan x="1596" y="834">the course</tspan></text></g>
<g id="n168" class="n"><rect class="l" x="1485" y="818" width="42" height="44"/><text class="m" font-size="3.9"><tspan x="1506" y="826.4">I want students to</tspan><tspan x="1506" y="832.4">have a better</tspan><tspan x="1506" y="838.4">general</tspan><tspan x="1506" y="844.4">understanding of</tspan><tspan x="1506" y="850.4">prerequisites</tspan><tspan x="1506" y="856.4">differences</tspan></text></g>
<g id="n169" class="n"><rect class="t" x="1423" y="835" width="59" height="60"/><text class="m" font-size="5"><tspan x="1452.5" y="845.8">It could be good</tspan><tspan x="1452.5" y="853.8">to include syllabi</tspan><tspan x="1452.5" y="861.8">from previous</tspan><tspan x="1452.5" y="869.8">iterations from</tspan><tspan x="1452.5" y="877.8">the course</tspan><tspan x="1452.5" y="885.8">(Optional)</tspan></text></g>
<g id="n170" class="n"><rect class="t" x="1574" y="884" width="43" height="43"/><text class="m" font-size="3.8"><tspan x="1595.5" y="896.3">I find that often</tspan><tspan x="1595.5" y="902.6">students have</tspan><tspan x="1595.5" y="909">little enlightened</tspan><tspan x="1595.5" y="915.3">of them</tspan></text></g>
</g>

<!-- ===== WANTS ===== -->
<g id="wants">
<g id="n171" class="n"><rect class="y" x="153" y="855" width="60" height="60"/><text class="m" font-size="6.4"><tspan x="183" y="867.2">I want to see</tspan><tspan x="183" y="876.2">what classes I</tspan><tspan x="183" y="886.2">still need for</tspan><tspan x="183" y="895.2">my major and</tspan><tspan x="183" y="905.2">minor</tspan></text></g>
<g id="n172" class="n"><rect class="b" x="209" y="863" width="61" height="62"/><text class="m" font-size="3.8"><tspan x="239.5" y="875.3">I wish I can filter based</tspan><tspan x="239.5" y="881.6">on the courses I have</tspan><tspan x="239.5" y="888">already taken so that I</tspan><tspan x="239.5" y="894.3">do not need to worry</tspan><tspan x="239.5" y="901">about classes that I do</tspan><tspan x="239.5" y="907.3">not have the prereqs</tspan><tspan x="239.5" y="914">for.</tspan></text></g>
<g id="n173" class="n"><rect class="y" x="270" y="856" width="68" height="68"/><text class="m" font-size="5.5"><tspan x="304" y="869.9">I wish there were a</tspan><tspan x="304" y="878.9">way to see what</tspan><tspan x="304" y="886.9">classes I've already</tspan><tspan x="304" y="894.9">taken without</tspan><tspan x="304" y="902.9">having to check</tspan><tspan x="304" y="910.9">multiple websites</tspan></text></g>
<g id="n174" class="n"><rect class="y" x="398" y="859" width="46" height="47"/><text class="m" font-size="4.8"><tspan x="421" y="868.7">I wish there</tspan><tspan x="421" y="875.7">were clearer</tspan><tspan x="421" y="883.7">pathways for</tspan><tspan x="421" y="890.7">double</tspan><tspan x="421" y="898.7">majoring</tspan></text></g>
<g id="n175" class="n"><rect class="p" x="450" y="864" width="52" height="53"/><text class="m" font-size="4.3"><tspan x="476" y="877.5">I want a better</tspan><tspan x="476" y="884.5">integration of</tspan><tspan x="476" y="891.5">related courses</tspan><tspan x="476" y="898.5">and clearer major</tspan><tspan x="476" y="905.5">requirements</tspan></text></g>
<g id="n176" class="n"><rect class="p" x="514" y="863" width="53" height="53"/><text class="m" font-size="6.3"><tspan x="540.5" y="876.2">I want a more</tspan><tspan x="540.5" y="886.2">intuitive</tspan><tspan x="540.5" y="895.2">filtering</tspan><tspan x="540.5" y="904.2">system.</tspan></text></g>
<g id="n177" class="n"><rect class="p" x="392" y="909" width="52" height="53"/><text class="m" font-size="5.6"><tspan x="418" y="920">I want a</tspan><tspan x="418" y="928">centralized</tspan><tspan x="418" y="937">department</tspan><tspan x="418" y="945">list for easier</tspan><tspan x="418" y="953">navigation</tspan></text></g>
<g id="n178" class="n"><rect class="p" x="450" y="927" width="52" height="52"/><text class="m" font-size="5.6"><tspan x="476" y="937">I would like is if</tspan><tspan x="476" y="946">there are</tspan><tspan x="476" y="954">features for</tspan><tspan x="476" y="962">waitlist</tspan><tspan x="476" y="971">tracking</tspan></text></g>
<g id="n179" class="n"><rect class="y" x="514" y="927" width="46" height="46"/><text class="m" font-size="6.3"><tspan x="537" y="937.2">I want the</tspan><tspan x="537" y="946.2">registration</tspan><tspan x="537" y="956.2">process to</tspan><tspan x="537" y="966.2">be easy</tspan></text></g>
<g id="n180" class="n"><rect class="p" x="392" y="967" width="52" height="53"/><text class="m" font-size="3.8"><tspan x="418" y="975.3">I would like more</tspan><tspan x="418" y="981.3">proactive</tspan><tspan x="418" y="987.3">notification and</tspan><tspan x="418" y="993.3">course</tspan><tspan x="418" y="999.3">announcements to</tspan><tspan x="418" y="1005.3">assist in schedule</tspan><tspan x="418" y="1012.3">planning.</tspan></text></g>
<g id="n181" class="n"><rect class="p" x="448" y="982" width="52" height="54"/><text class="m" font-size="5.6"><tspan x="474" y="994">I want an</tspan><tspan x="474" y="1002">improved</tspan><tspan x="474" y="1010">course</tspan><tspan x="474" y="1019">availability</tspan><tspan x="474" y="1027">display.</tspan></text></g>
<g id="n182" class="n"><rect class="y" x="506" y="977" width="47" height="48"/><text class="m" font-size="3.8"><tspan x="529.5" y="986.3">I wish we have my</tspan><tspan x="529.5" y="992.3">liberal arts</tspan><tspan x="529.5" y="998.3">requirements</tspan><tspan x="529.5" y="1004.3">overlap more with</tspan><tspan x="529.5" y="1011.3">those in major</tspan><tspan x="529.5" y="1017.3">requirements</tspan></text></g>
</g>

<!-- ===== By Departments / By Time slots / REGRETS ===== -->
<g id="departments-time-regrets">
<g id="n183" class="n"><rect class="y" x="611" y="845" width="45" height="45"/><text class="m" font-size="3.8"><tspan x="633.5" y="855.3">I look through all</tspan><tspan x="633.5" y="861.3">of the</tspan><tspan x="633.5" y="867.3">departments that</tspan><tspan x="633.5" y="873.6">I might have some</tspan><tspan x="633.5" y="879.6">interest in</tspan></text></g>
<g id="n184" class="n"><rect class="y" x="658" y="845" width="42" height="40"/><text class="m" font-size="4.6"><tspan x="679" y="861.6">I search by</tspan><tspan x="679" y="868.9">departments</tspan></text></g>
<g id="n185" class="n"><rect class="b" x="642" y="893" width="36" height="36"/><text class="m" font-size="4.3"><tspan x="660" y="908.8">I search by</tspan><tspan x="660" y="915.5">department</tspan></text></g>
<g id="n186" class="n"><rect class="o" x="677" y="890" width="33" height="33"/><use href="#b3" x="677" y="890" width="33" height="33"/></g>
<g id="n187" class="n"><rect class="y" x="792" y="879" width="40" height="38"/><text class="m" font-size="3.9"><tspan x="812" y="888.7">The professor</tspan><tspan x="812" y="895.1">and the time</tspan><tspan x="812" y="901.4">of the class</tspan><tspan x="812" y="907.4">matters</tspan></text></g>
<g id="n188" class="n"><rect class="y" x="834" y="897" width="32" height="33"/><use href="#b5" x="834" y="897" width="32" height="33"/></g>
<g id="n189" class="n"><rect class="c" x="755" y="905" width="35" height="36"/><text class="m" font-size="4.7"><tspan x="772.5" y="912.6">Use hub,</tspan><tspan x="772.5" y="920.3">maybe</tspan><tspan x="772.5" y="927.6">search by</tspan><tspan x="772.5" y="934.9">timeslot</tspan></text></g>
<g id="n190" class="n"><rect class="y" x="796" y="922" width="29" height="30"/><text class="m" font-size="5.2"><tspan x="810.5" y="930.5">I look at</tspan><tspan x="810.5" y="938.8">times of</tspan><tspan x="810.5" y="947.1">classes</tspan></text></g>
<g id="n191" class="n"><rect class="c" x="955" y="873" width="53" height="54"/><text class="m" font-size="4.6"><tspan x="981.5" y="886.6">Regret not using</tspan><tspan x="981.5" y="893.6">resources, didn't</tspan><tspan x="981.5" y="900.6">take courses that</tspan><tspan x="981.5" y="907.6">seemed too much</tspan><tspan x="981.5" y="915.6">of a challenge</tspan></text></g>
<g id="n192" class="n"><rect class="o" x="1012" y="873" width="53" height="54"/><text class="m" font-size="5.3"><tspan x="1038.5" y="884.9">Regret taking</tspan><tspan x="1038.5" y="892.9">less nonstem</tspan><tspan x="1038.5" y="901.9">classes than</tspan><tspan x="1038.5" y="909.9">other carleton</tspan><tspan x="1038.5" y="918.9">students</tspan></text></g>
<g id="n193" class="n"><rect class="c" x="969" y="927" width="57" height="56"/><text class="m" font-size="4.8"><tspan x="997.5" y="936.7">Regret repeating</tspan><tspan x="997.5" y="943.7">classes in same</tspan><tspan x="997.5" y="951.7">departments first</tspan><tspan x="997.5" y="959.7">year (not trying</tspan><tspan x="997.5" y="966.7">new things</tspan><tspan x="997.5" y="974.7">earlier)</tspan></text></g>
<g id="n194" class="n"><rect class="b" x="1086" y="883" width="83" height="45"/><text class="m" font-size="3.6"><tspan x="1127.5" y="890.3">I wish I had taken a different</tspan><tspan x="1127.5" y="896.3">section of the professors because I</tspan><tspan x="1127.5" y="902.3">disagreed with the way that each</tspan><tspan x="1127.5" y="909.3">semester last year. Also, I talk to</tspan><tspan x="1127.5" y="915.3">other students or the professor</tspan><tspan x="1127.5" y="921.3">themselves.</tspan></text></g>
</g>

<!-- ===== Workday Likes ===== -->
<g id="workday-likes">
<g id="n195" class="n"><rect class="r" x="704" y="1040" width="37" height="37"/><text class="m" font-size="4.6"><tspan x="722.5" y="1049.6">Liked enroll</tspan><tspan x="722.5" y="1056.6">forms filters</tspan><tspan x="722.5" y="1063.6">ability, can</tspan><tspan x="722.5" y="1070.6">go all</tspan></text></g>
<g id="n196" class="n"><rect class="b" x="753" y="1033" width="37" height="37"/><use href="#b5" x="753" y="1033" width="37" height="37"/></g>
<g id="n197" class="n"><rect class="o" x="672" y="1088" width="37" height="38"/><text class="m" font-size="3.6"><tspan x="690.5" y="1098.6">Enjoy multiple</tspan><tspan x="690.5" y="1104.6">pathway</tspan><tspan x="690.5" y="1110.6">features</tspan></text></g>
<g id="n198" class="n"><rect class="c" x="724" y="1086" width="48" height="47"/><text class="m" font-size="6.8"><tspan x="748" y="1096.4">Like the</tspan><tspan x="748" y="1106.4">process for</tspan><tspan x="748" y="1116.4">choosing</tspan><tspan x="748" y="1126.4">courses</tspan></text></g>
<g id="n199" class="n"><rect class="b" x="777" y="1078" width="46" height="46"/><text class="m" font-size="4.8"><tspan x="800" y="1087.7">For me,</tspan><tspan x="800" y="1094.7">Workday is</tspan><tspan x="800" y="1101.7">easier to use</tspan><tspan x="800" y="1109.7">and is clearer</tspan><tspan x="800" y="1116.7">than the Hub.</tspan></text></g>
<g id="n200" class="n"><rect class="l" x="724" y="1141" width="35" height="37"/><use href="#b4" x="724" y="1141" width="35" height="37"/></g>
<g id="n201" class="n"><rect class="o" x="888" y="1056" width="36" height="37"/><text class="m" font-size="4.7"><tspan x="906" y="1064.6">Appreciate</tspan><tspan x="906" y="1071.6">queuing for</tspan><tspan x="906" y="1079.6">in from</tspan><tspan x="906" y="1086.6">waitlists</tspan></text></g>
<g id="n202" class="n"><rect class="l" x="929" y="1061" width="37" height="37"/><text class="m" font-size="4.7"><tspan x="947.5" y="1072.6">Like</tspan><tspan x="947.5" y="1080.6">flexibility of</tspan><tspan x="947.5" y="1088.6">schedule</tspan></text></g>
<g id="n203" class="n"><rect class="o" x="874" y="1101" width="36" height="36"/><text class="m" font-size="4.7"><tspan x="892" y="1108.6">Usually</tspan><tspan x="892" y="1116.6">able to get</tspan><tspan x="892" y="1123.6">into classes</tspan><tspan x="892" y="1131.6">I want</tspan></text></g>
<g id="n204" class="n"><rect class="b" x="994" y="1124" width="42" height="42"/><use href="#b4" x="994" y="1124" width="42" height="42"/></g>
<g id="n205" class="n"><rect class="o" x="611" y="1177" width="36" height="36"/><text class="m" font-size="4"><tspan x="629" y="1186.4">Useful to use</tspan><tspan x="629" y="1193.1">filters/helpful</tspan></text></g>
<g id="n206" class="n"><rect class="p" x="646" y="1177" width="37" height="37"/><use href="#b5" x="646" y="1177" width="37" height="37"/></g>
<g id="n207" class="n"><rect class="p" x="613" y="1196" width="36" height="37"/><use href="#b5" x="613" y="1196" width="36" height="37"/></g>
<g id="n208" class="n"><rect class="y" x="650" y="1210" width="36" height="37"/><use href="#b5" x="650" y="1210" width="36" height="37"/></g>
<g id="n209" class="n"><rect class="b" x="787" y="1168" width="36" height="37"/><use href="#b4" x="787" y="1168" width="36" height="37"/></g>
<g id="n210" class="n"><rect class="t" x="832" y="1168" width="36" height="37"/><text class="m" font-size="4.8"><tspan x="850" y="1175.7">I like being</tspan><tspan x="850" y="1183.7">able to add</tspan><tspan x="850" y="1190.7">courses to</tspan><tspan x="850" y="1198.7">a schedule</tspan></text></g>
<g id="n211" class="n"><rect class="p" x="871" y="1196" width="36" height="37"/><text class="m" font-size="3.7"><tspan x="889" y="1206.3">I think calendar</tspan><tspan x="889" y="1212.3">view is really</tspan><tspan x="889" y="1218.3">helpful</tspan><tspan x="889" y="1224.6">for visuals</tspan></text></g>
<g id="n212" class="n"><rect class="b" x="761" y="1212" width="39" height="41"/><use href="#b6" x="761" y="1212" width="39" height="41"/></g>
<g id="n213" class="n"><rect class="b" x="811" y="1213" width="50" height="49"/><use href="#b7" x="811" y="1213" width="50" height="49"/></g>
</g>

<!-- ===== DISLIKES ===== -->
<g id="dislikes">
<g id="n214" class="n"><rect class="b" x="1088" y="1054" width="47" height="48"/><text class="m" font-size="6.3"><tspan x="1111.5" y="1070.2">Workday is</tspan><tspan x="1111.5" y="1079.2">more</tspan><tspan x="1111.5" y="1089.2">unintuitive.</tspan></text></g>
<g id="n215" class="n"><rect class="p" x="1134" y="1048" width="31" height="31"/><text class="m" font-size="3.6"><tspan x="1149.5" y="1056.3">I think the UI</tspan><tspan x="1149.5" y="1062">is difficult,</tspan><tspan x="1149.5" y="1067.6">confusing,</tspan><tspan x="1149.5" y="1073">frustrating.</tspan></text></g>
<g id="n216" class="n"><rect class="r" x="1136" y="1079" width="30" height="30"/><use href="#b4" x="1136" y="1079" width="30" height="30"/></g>
<g id="n219" class="n"><rect class="o" x="1166" y="1087" width="39" height="24"/></g>
<g id="n217" class="n"><rect class="c" x="1167" y="1043" width="42" height="43"/><text class="m" font-size="3.6"><tspan x="1188" y="1051.3">Workday's</tspan><tspan x="1188" y="1056.6">navigation is</tspan><tspan x="1188" y="1062">confusing, it</tspan><tspan x="1188" y="1067.3">takes time to</tspan><tspan x="1188" y="1073.3">learn its</tspan><tspan x="1188" y="1079">layout</tspan></text></g>
<g id="n218" class="n"><rect class="y" x="1213" y="1038" width="45" height="46"/><use href="#b6" x="1213" y="1038" width="45" height="46"/></g>
<g id="n220" class="n"><rect class="o" x="1208" y="1086" width="28" height="29"/><use href="#b2" x="1208" y="1086" width="28" height="29"/></g>
<g id="n221" class="n"><rect class="p" x="1100" y="1156" width="31" height="32"/><text class="m" font-size="3.6"><tspan x="1115.5" y="1163.6">I don't like</tspan><tspan x="1115.5" y="1169.3">to explore</tspan><tspan x="1115.5" y="1174.6">about</tspan><tspan x="1115.5" y="1180.3">courses</tspan></text></g>
<g id="n222" class="n"><rect class="p" x="1134" y="1156" width="47" height="47"/><use href="#b5" x="1134" y="1156" width="47" height="47"/></g>
<g id="n223" class="n"><rect class="y" x="1184" y="1160" width="36" height="37"/><use href="#b5" x="1184" y="1160" width="36" height="37"/></g>
<g id="n224" class="n"><rect class="p" x="1222" y="1159" width="31" height="33"/><text class="m" font-size="3.6"><tspan x="1237.5" y="1168">I think</tspan><tspan x="1237.5" y="1173.3">Workday</tspan><tspan x="1237.5" y="1178.6">takes a while</tspan><tspan x="1237.5" y="1184">(loading).</tspan></text></g>
<g id="n225" class="n"><rect class="b" x="1276" y="1143" width="30" height="31"/><use href="#b4" x="1276" y="1143" width="30" height="31"/></g>
<g id="n226" class="n"><rect class="p" x="1309" y="1143" width="31" height="32"/><text class="m" font-size="3.6"><tspan x="1324.5" y="1150.3">There can be</tspan><tspan x="1324.5" y="1155.6">very specific</tspan><tspan x="1324.5" y="1161">to find</tspan><tspan x="1324.5" y="1166.3">courses</tspan></text></g>
<g id="n227" class="n"><rect class="b" x="1341" y="1143" width="33" height="33"/><use href="#b5" x="1341" y="1143" width="33" height="33"/></g>
<g id="n228" class="f"><rect class="p" x="1364" y="1074" width="26" height="30"/></g>
<g id="n229" class="n"><rect class="l" x="1408" y="1072" width="35" height="35"/><text class="m" font-size="3.8"><tspan x="1425.5" y="1080.3">Some classes</tspan><tspan x="1425.5" y="1086.6">that are really</tspan><tspan x="1425.5" y="1093">cool aren't</tspan><tspan x="1425.5" y="1099">advertised</tspan></text></g>
<g id="n230" class="n"><rect class="l" x="1456" y="1072" width="38" height="39"/><use href="#b5" x="1456" y="1072" width="38" height="39"/></g>
<g id="n231" class="n"><rect class="c" x="1496" y="1075" width="31" height="32"/><text class="m" font-size="3.6"><tspan x="1511.5" y="1083.6">Dislike some</tspan><tspan x="1511.5" y="1089.3">classes being</tspan><tspan x="1511.5" y="1095">competitive</tspan><tspan x="1511.5" y="1100.6">to get into</tspan></text></g>
<g id="n232" class="n"><rect class="y" x="1552" y="1071" width="31" height="31"/><use href="#b5" x="1552" y="1071" width="31" height="31"/></g>
</g>
</svg>
